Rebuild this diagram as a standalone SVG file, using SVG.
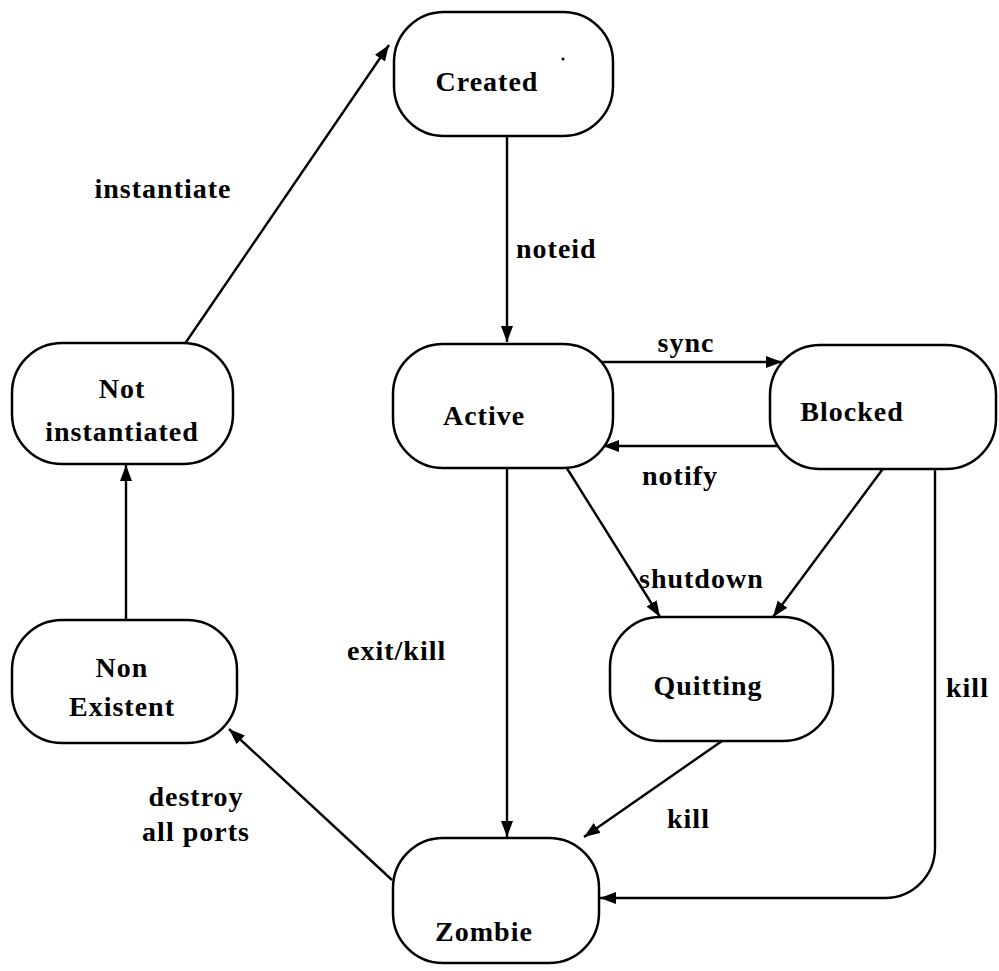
<svg xmlns="http://www.w3.org/2000/svg" width="999" height="971" viewBox="0 0 999 971">
  <style>
    .node { fill: #fff; stroke: #000; stroke-width: 2.5; }
    .edge { fill: none; stroke: #000; stroke-width: 2.4; marker-end: url(#arrow); }
    text { font-family: "Liberation Serif", "Times New Roman", serif; font-weight: bold; font-size: 28px; letter-spacing: 1px; fill: #000; text-anchor: middle; }
    .lbl { text-anchor: start; }
  </style>
  <defs>
    <marker id="arrow" markerUnits="userSpaceOnUse" markerWidth="18" markerHeight="14" refX="16" refY="6" orient="auto">
      <path d="M0,0 L16,6 L0,12 Z" fill="#000"/>
    </marker>
  </defs>

  <!-- transitions -->
  <g id="connectors">
    <line class="edge" x1="182" y1="348" x2="389" y2="45"/>
    <line class="edge" x1="507" y1="137" x2="507" y2="342"/>
    <line class="edge" x1="600" y1="362" x2="782" y2="362"/>
    <line class="edge" x1="782" y1="446" x2="603" y2="446"/>
    <line class="edge" x1="563" y1="462" x2="660" y2="617"/>
    <line class="edge" x1="885" y1="466" x2="773" y2="617"/>
    <path class="edge" d="M935,469 V848 A50,50 0 0 1 885,898 H600"/>
    <line class="edge" x1="722" y1="741" x2="584" y2="837"/>
    <line class="edge" x1="507" y1="469" x2="507" y2="837"/>
    <line class="edge" x1="392" y1="880" x2="229" y2="729"/>
    <line class="edge" x1="126" y1="620" x2="126" y2="465"/>
  </g>

  <!-- transition labels -->
  <g id="labels">
    <text x="163" y="198">instantiate</text>
    <text class="lbl" x="516" y="258">noteid</text>
    <text x="686" y="352">sync</text>
    <text x="680" y="485">notify</text>
    <text class="lbl" x="639" y="588">shutdown</text>
    <text class="lbl" x="347" y="660">exit/kill</text>
    <text class="lbl" x="946" y="697">kill</text>
    <text class="lbl" x="667" y="828">kill</text>
    <text x="196" y="806">destroy</text>
    <text x="196" y="841">all ports</text>
  </g>

  <g id="created">
    <rect class="node" x="394" y="12" width="219" height="124" rx="50"/>
    <text x="487" y="91">Created</text>
    <circle cx="563" cy="59" r="1.5" fill="#000"/>
  </g>
  <g id="active">
    <rect class="node" x="393" y="344" width="220" height="124" rx="50"/>
    <text x="484" y="425">Active</text>
  </g>
  <g id="blocked">
    <rect class="node" x="770" y="345" width="226" height="124" rx="50"/>
    <text x="852" y="421">Blocked</text>
  </g>
  <g id="not-instantiated">
    <rect class="node" x="12" y="343" width="221" height="121" rx="50"/>
    <text x="122" y="398">Not</text>
    <text x="122" y="441">instantiated</text>
  </g>
  <g id="non-existent">
    <rect class="node" x="12" y="620" width="225" height="123" rx="50"/>
    <text x="122" y="677">Non</text>
    <text x="122" y="716">Existent</text>
  </g>
  <g id="quitting">
    <rect class="node" x="610" y="617" width="223" height="124" rx="50"/>
    <text x="708" y="695">Quitting</text>
  </g>
  <g id="zombie">
    <rect class="node" x="393" y="838" width="206" height="125" rx="50"/>
    <text x="484" y="941">Zombie</text>
  </g>
</svg>
